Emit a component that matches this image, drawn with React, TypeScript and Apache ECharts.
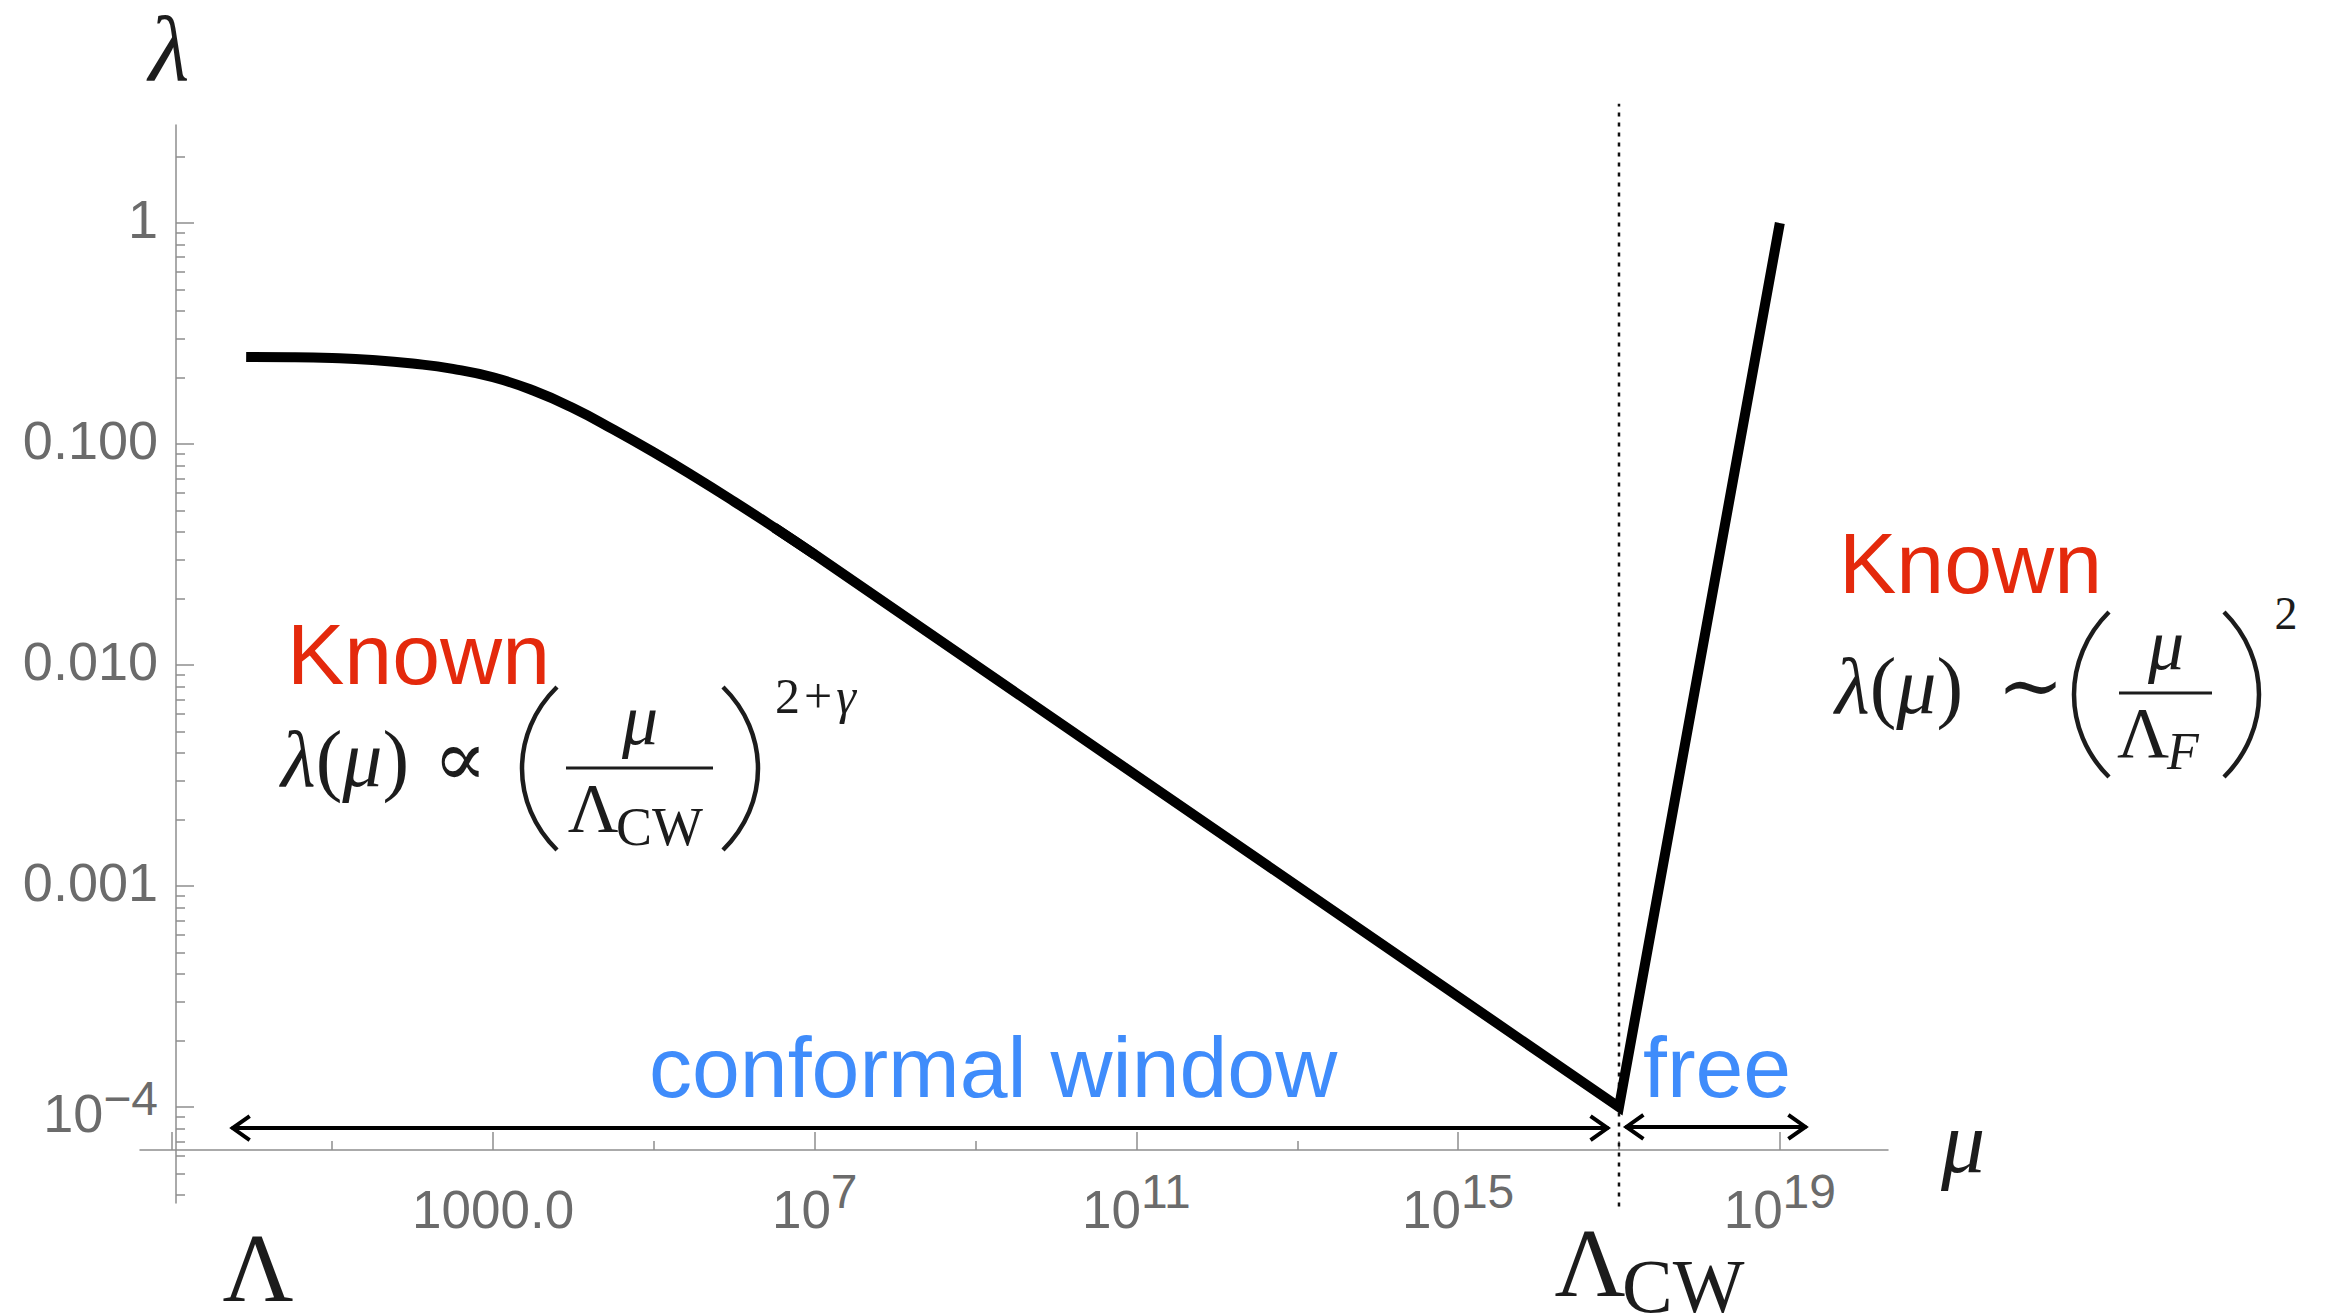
import React, { useEffect, useRef } from 'react';
import * as echarts from 'echarts';

const W = 2329;
const H = 1314;

// ---- data (log10 μ , log10 λ) ----
const curveLogMu = [-0.07, 0.5, 1, 1.5, 2, 2.5, 3, 3.5, 4, 4.5, 5, 5.5, 6, 6.5, 7, 17, 19];
const curveLogLambda = [-0.606, -0.607, -0.611, -0.62, -0.636, -0.66, -0.698, -0.758, -0.838, -0.935, -1.038, -1.147, -1.261, -1.379, -1.5, -4, 0];
// the rounded (crossover) part ends here; beyond it the curve is two straight power laws
const smoothEndLogMu = 7;
const straightStartLogMu = 6.5;

// Λ_CW marker (dotted vertical line)
const lambdaCWLogMu = 17;
const dottedLogLambda = [-4.45, 0.54];

// double arrows: "conformal window" and "free"
const arrowStartLogMu = [-0.25, 17.08];
const arrowEndLogMu = [16.87, 19.33];
const arrowLogLambda = [-4.095, -4.09];

// ---- axes ----
const xMin = -1.39;
const xMax = 20.345;
const yMin = -4.434;
const yMax = 0.4434;
const xMajorTicks = [-1, 3, 7, 11, 15, 19];
const xMinorTicks = [1, 5, 9, 13, 17];
const xLabelValues = [3, 7, 11, 15, 19];
const xLabelTexts = ['1000.0', '10^7', '10^11', '10^15', '10^19'];
const yMajorTicks = [-4, -3, -2, -1, 0];
const yLabelTexts = ['10^\u22124', '0.001', '0.010', '0.100', '1'];
const yMinorMultipliers = [2, 3, 4, 5, 6, 7, 8, 9];
const yMinorDecades = [-5, -4, -3, -2, -1, 0];

const AXIS_GRAY = '#8e8e8e';
const LABEL_GRAY = '#6b6b6b';
const SANS = "'Liberation Sans', Arial, Helvetica, sans-serif";
const SERIF = "'Liberation Serif', 'DejaVu Serif', serif";
const INK = '#1c1c1c';
const RED = '#e4290c';
const BLUE = '#3f8cfb';

const yMinorTicks: number[] = [];
yMinorDecades.forEach((d) =>
  yMinorMultipliers.forEach((m) => {
    const v = d + Math.log10(m);
    if (v > yMin && v < yMax) yMinorTicks.push(v);
  })
);

function fmtSup(text: string | undefined, plainStyle: string) {
  if (!text) return '';
  const [b, s] = text.split('^');
  return s ? `{b|${b}}{s|${s}}` : `{${plainStyle}|${b}}`;
}

export default function App() {
  const ref = useRef<HTMLDivElement>(null);
  useEffect(() => {
    document.body.style.margin = '0';
    const chart = echarts.init(ref.current!, undefined, { renderer: 'svg', width: W, height: H });

    const allPts = curveLogMu.map((x, i) => [x, curveLogLambda[i]]);
    const smoothData = allPts.filter((p) => p[0] <= smoothEndLogMu + 1e-9);
    const straightData = allPts.filter((p) => p[0] >= straightStartLogMu - 1e-9);
    const dottedData = dottedLogLambda.map((y) => [lambdaCWLogMu, y]);
    const arrowData = arrowStartLogMu.map((x, i) => [x, arrowEndLogMu[i], arrowLogLambda[i]]);

    const baseAxisLine = { show: true, onZero: false, lineStyle: { color: AXIS_GRAY, width: 1.5 } };

    const text = (x: number, y: number, t: string, size: number, fill: string, extra: any = {}) => ({
      type: 'text',
      x,
      y,
      silent: true,
      style: { text: t, fontSize: size, fontFamily: SANS, fill, align: 'left', verticalAlign: 'middle', lineHeight: Math.round(size * 0.9), ...extra },
    });

    const serifRich = (size: number, gap: number) => ({
      i: { fontFamily: SERIF, fontStyle: 'italic', fontSize: size, fill: INK },
      r: { fontFamily: SERIF, fontSize: size, fill: INK },
      o: { fontFamily: SERIF, fontSize: size, fill: INK, padding: [0, 0, 0, gap] },
    });

    const paren = (xEnd: number, xMid: number, y1: number, y2: number) => {
      const cp = (xMid - 0.25 * xEnd) / 0.75;
      return {
        type: 'bezierCurve',
        silent: true,
        shape: { x1: xEnd, y1, x2: xEnd, y2, cpx1: cp, cpy1: y1 + (y2 - y1) * 0.28, cpx2: cp, cpy2: y2 - (y2 - y1) * 0.28 },
        style: { stroke: INK, lineWidth: 4.5, fill: 'none' },
      };
    };

    const curveStyle = { color: '#000', width: 10, cap: 'butt', join: 'miter', miterLimit: 10 };

    const option: any = {
      animation: false,
      backgroundColor: '#ffffff',
      grid: { left: 140, right: W - 1888, top: 125, bottom: H - 1203, containLabel: false, outerBoundsMode: 'none' },
      xAxis: [
        {
          type: 'value',
          min: xMin,
          max: xMax,
          position: 'bottom',
          offset: -53,
          axisLine: baseAxisLine,
          splitLine: { show: false },
          axisTick: { show: true, inside: true, length: 18, customValues: xMajorTicks, lineStyle: { color: AXIS_GRAY, width: 1.5 } },
          axisLabel: {
            show: true,
            customValues: xLabelValues,
            margin: 25,
            formatter: (v: number) => fmtSup(xLabelTexts[xLabelValues.findIndex((a) => Math.abs(a - v) < 1e-6)], 'b'),
            rich: {
              b: { fontSize: 53, lineHeight: 53, padding: [16, 0, 0, 0], fontFamily: SANS, color: LABEL_GRAY },
              s: { fontSize: 48, lineHeight: 48, padding: [0, 0, 21, 0], fontFamily: SANS, color: LABEL_GRAY },
            },
          },
        },
        {
          type: 'value',
          min: xMin,
          max: xMax,
          position: 'bottom',
          offset: -53,
          axisLine: { show: false, onZero: false },
          splitLine: { show: false },
          axisLabel: { show: false },
          axisTick: { show: true, inside: true, length: 9, customValues: xMinorTicks, lineStyle: { color: AXIS_GRAY, width: 1.5 } },
        },
      ],
      yAxis: [
        {
          type: 'value',
          min: yMin,
          max: yMax,
          position: 'left',
          offset: -36,
          axisLine: baseAxisLine,
          splitLine: { show: false },
          axisTick: { show: true, inside: true, length: 18, customValues: yMajorTicks, lineStyle: { color: AXIS_GRAY, width: 1.5 } },
          axisLabel: {
            show: true,
            customValues: yMajorTicks,
            margin: 18,
            formatter: (v: number) => fmtSup(yLabelTexts[yMajorTicks.findIndex((a) => Math.abs(a - v) < 1e-6)], 'p'),
            rich: {
              p: { fontSize: 54, lineHeight: 54, padding: [0, 0, 8, 0], fontFamily: SANS, color: LABEL_GRAY },
              b: { fontSize: 54, lineHeight: 54, padding: [12, 0, 0, 0], fontFamily: SANS, color: LABEL_GRAY },
              s: { fontSize: 48, lineHeight: 48, padding: [0, 0, 18, 0], fontFamily: SANS, color: LABEL_GRAY },
            },
          },
        },
        {
          type: 'value',
          min: yMin,
          max: yMax,
          position: 'left',
          offset: -36,
          axisLine: { show: false, onZero: false },
          splitLine: { show: false },
          axisLabel: { show: false },
          axisTick: { show: true, inside: true, length: 9, customValues: yMinorTicks, lineStyle: { color: AXIS_GRAY, width: 1.5 } },
        },
      ],
      series: [
        {
          type: 'line',
          data: dottedData,
          clip: false,
          symbol: 'none',
          z: 1,
          lineStyle: { color: '#111', width: 2.5, type: [4, 6] },
        },
        {
          type: 'line',
          data: smoothData,
          smooth: 0.5,
          symbol: 'none',
          z: 3,
          lineStyle: curveStyle,
        },
        {
          type: 'line',
          data: straightData,
          symbol: 'none',
          z: 3,
          lineStyle: curveStyle,
        },
        {
          type: 'custom',
          data: arrowData,
          z: 2,
          renderItem: (params: any, api: any) => {
            const p1 = api.coord([api.value(0), api.value(2)]);
            const p2 = api.coord([api.value(1), api.value(2)]);
            const st = { stroke: '#000', lineWidth: 4, fill: 'none' };
            return {
              type: 'group',
              children: [
                { type: 'line', shape: { x1: p1[0], y1: p1[1], x2: p2[0], y2: p2[1] }, style: st },
                { type: 'polyline', shape: { points: [[p1[0] + 18, p1[1] - 12], [p1[0] + 1, p1[1]], [p1[0] + 18, p1[1] + 12]] }, style: st },
                { type: 'polyline', shape: { points: [[p2[0] - 18, p2[1] - 12], [p2[0] - 1, p2[1]], [p2[0] - 18, p2[1] + 12]] }, style: st },
              ],
            };
          },
        },
      ],
      graphic: [
        // axis titles
        text(169, 48, 'λ', 94, INK, { fontFamily: SERIF, fontStyle: 'italic', align: 'center', lineHeight: 76 }),
        text(1963, 1142, 'μ', 88, INK, { fontFamily: SERIF, fontStyle: 'italic', align: 'center' }),
        text(258, 1268, 'Λ', 98, INK, { fontFamily: SERIF, align: 'center', lineHeight: 72 }),
        text(1590, 1263, 'Λ', 98, INK, { fontFamily: SERIF, align: 'center', lineHeight: 72 }),
        text(1622, 1286, 'CW', 76, INK, { fontFamily: SERIF, lineHeight: 50 }),
        // region labels
        text(287, 654, 'Known', 86, RED),
        text(1839, 563, 'Known', 86, RED),
        text(649, 1067, 'conformal window', 86, BLUE),
        text(1643, 1067, 'free', 86, BLUE),
        // left formula: λ(μ) ∝ (μ / Λ_CW)^{2+γ}
        { type: 'text', x: 281, y: 759, silent: true, style: { text: '{i|λ}{r|(}{i|μ}{r|)}{o|∝}', verticalAlign: 'middle', rich: serifRich(80, 24) } },
        paren(557, 522, 687, 850),
        paren(723, 758, 687, 850),
        text(640, 720, 'μ', 72, INK, { fontFamily: SERIF, fontStyle: 'italic', align: 'center' }),
        { type: 'line', silent: true, shape: { x1: 566, y1: 768, x2: 713, y2: 768 }, style: { stroke: INK, lineWidth: 3 } },
        text(593, 808, 'Λ', 70, INK, { fontFamily: SERIF, align: 'center' }),
        text(616, 827, 'CW', 54, INK, { fontFamily: SERIF }),
        { type: 'text', x: 775, y: 696, silent: true, style: { text: '{r|2}{p|+}{i|γ}', verticalAlign: 'middle', rich: { ...serifRich(50, 0), p: { fontFamily: SERIF, fontSize: 50, fill: INK, padding: [0, 4, 0, 4] } } } },
        // right formula: λ(μ) ∼ (μ / Λ_F)^2
        { type: 'text', x: 1835, y: 686, silent: true, style: { text: '{i|λ}{r|(}{i|μ}{r|)}{o|∼}', verticalAlign: 'middle', rich: serifRich(80, 34) } },
        paren(2109, 2074, 612, 777),
        paren(2224, 2259, 612, 777),
        text(2166, 645, 'μ', 72, INK, { fontFamily: SERIF, fontStyle: 'italic', align: 'center' }),
        { type: 'line', silent: true, shape: { x1: 2119, y1: 693, x2: 2212, y2: 693 }, style: { stroke: INK, lineWidth: 3 } },
        text(2143, 733, 'Λ', 72, INK, { fontFamily: SERIF, align: 'center' }),
        text(2167, 751, 'F', 52, INK, { fontFamily: SERIF, fontStyle: 'italic' }),
        text(2286, 613, '2', 46, INK, { fontFamily: SERIF, align: 'center' }),
      ],
    };

    chart.setOption(option);
    return () => chart.dispose();
  }, []);

  return <div ref={ref} style={{ position: 'fixed', left: 0, top: 0, width: W, height: H, background: '#fff' }} />;
}
